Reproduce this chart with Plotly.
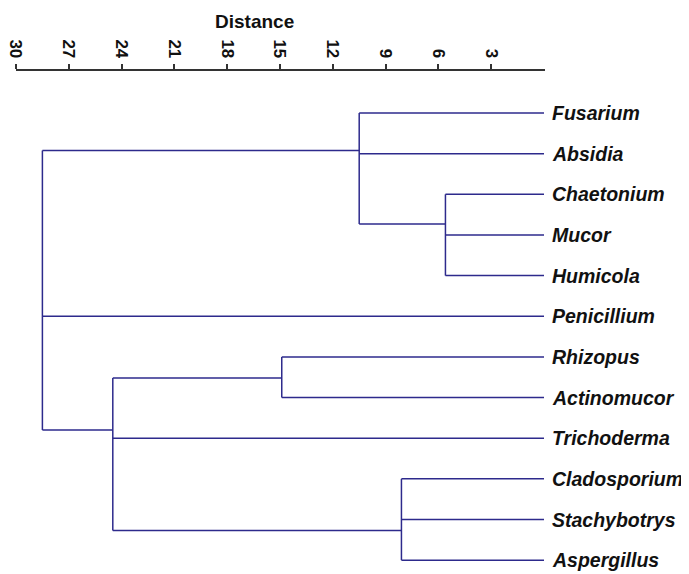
import plotly.graph_objects as go

# ---- data ----
leaves = ["Fusarium", "Absidia", "Chaetonium", "Mucor", "Humicola", "Penicillium",
          "Rhizopus", "Actinomucor", "Trichoderma", "Cladosporium", "Stachybotrys", "Aspergillus"]
# clusters: merge distance, position (in leaf-row units) of link to parent, children
cluster_names = ["A", "B", "C", "D", "E", "root"]
cluster_height = [10.5, 5.6, 24.5, 14.9, 8.1, 28.5]
cluster_link_pos = [0.92, 2.73, 7.80, 6.52, 10.27, None]
cluster_children = [
    ["Fusarium", "Absidia", "B"],
    ["Chaetonium", "Mucor", "Humicola"],
    ["D", "Trichoderma", "E"],
    ["Rhizopus", "Actinomucor"],
    ["Cladosporium", "Stachybotrys", "Aspergillus"],
    ["A", "Penicillium", "C"],
]
tick_values = [30, 27, 24, 21, 18, 15, 12, 9, 6, 3]

LINE = "#2d2a8c"
FONT = "Liberation Sans, Arial, sans-serif"

def node_pos(name):
    if name in leaves:
        return 0.0, float(leaves.index(name))
    i = cluster_names.index(name)
    return cluster_height[i], cluster_link_pos[i]

xs, ys = [], []
for name, h, kids in zip(cluster_names, cluster_height, cluster_children):
    pts = [node_pos(k) for k in kids]
    kid_y = [p[1] for p in pts]
    # vertical
    xs += [h, h, None]
    ys += [min(kid_y), max(kid_y), None]
    # horizontals
    for kx, ky in pts:
        xs += [kx, h, None]
        ys += [ky, ky, None]

fig = go.Figure()
fig.add_trace(go.Scatter(x=xs, y=ys, mode="lines",
                         line=dict(color=LINE, width=1.5),
                         hoverinfo="skip", showlegend=False))

for i, lab in enumerate(leaves):
    fig.add_annotation(x=0, y=i, xref="x", yref="y", text=lab, showarrow=False,
                       xanchor="left", yanchor="middle", xshift=6,
                       font=dict(family=FONT, size=19.5, color="#111111",
                                 weight="bold", style="italic"))

fig.add_annotation(x=0.4505, y=1.0996, xref="paper", yref="paper", text="Distance",
                   showarrow=False, xanchor="center", yanchor="middle",
                   font=dict(family=FONT, size=19, color="#111111", weight="bold"))

# page body has an 8px default margin; size the figure to fill the rest
fig.update_layout(
    width=681, height=566,
    margin=dict(l=8, r=144, t=63, b=11),
    plot_bgcolor="white", paper_bgcolor="white",
    xaxis=dict(side="top", range=[30, -0.057], tickvals=tick_values,
               ticktext=[str(v) for v in tick_values], automargin=False,
               ticklabeloverflow="allow",
               tickangle=90, ticks="outside", ticklen=5, tickwidth=1.5,
               tickcolor="#333333", showline=True, linecolor="#333333", linewidth=1.5,
               showgrid=False, zeroline=False,
               tickfont=dict(family=FONT, size=17, color="#111111", weight="bold")),
    yaxis=dict(range=[11.07, -1.033], visible=False, showgrid=False, zeroline=False,
               automargin=False),
)

fig.write_html("out.html")
